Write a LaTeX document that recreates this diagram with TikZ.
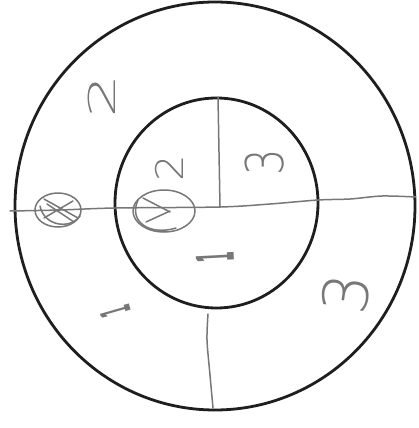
\documentclass[tikz,border=0pt]{standalone}
\usepackage{fontspec}
\usepackage{graphicx}
\newfontfamily\handfont{DejaVu Sans ExtraLight}
\newfontfamily\heavyfont{DejaVu Sans Bold}
\definecolor{ink}{HTML}{1E1E1E}
\definecolor{pencil}{HTML}{777777}
\begin{document}
\begin{tikzpicture}[x=1pt,y=-1pt,
  ring/.style={draw=ink,line width=2.8pt},
  pen/.style={draw=pencil,line width=1.5pt,line cap=round,line join=round},
  digit/.style={text=pencil,inner sep=0pt,rotate=90}]
\useasboundingbox[fill=white] (0,0) rectangle (419,428);
% circles
\draw[ring] (215,206) ellipse [x radius=200,y radius=204];
\draw[ring] (216.5,203) ellipse [x radius=101.5,y radius=105];
% division lines
\coordinate (hl) at (10,211);
\coordinate (hr) at (416,197);
\coordinate (vt) at (218,97);
\coordinate (vb) at (220,207);
\coordinate (lt) at (208,314);
\coordinate (lb) at (213,408);
\draw[pen] plot[smooth] coordinates {(hl) (60,210) (115,208) (220,207) (270,204) (318,200) (350,199) (382,196) (hr)};
\draw[pen] (vt) -- (vb);
\draw[pen] plot[smooth] coordinates {(lt) (207,340) (210,375) (lb)};
% left circled cross
\draw[pen] (58,210) ellipse [x radius=23,y radius=17];
\draw[pen] (40,206) .. controls (44,226) and (70,230) .. (80,216);
\draw[pen] (44,199) -- (78,218);
\draw[pen] (44,218) -- (73,201);
\draw[pen] (47,204) -- (74,222);
% right circled mark
\draw[pen] (164,211) ellipse [x radius=31,y radius=21];
\draw[pen] (138,200) .. controls (128,222) and (150,236) .. (176,228);
\draw[pen] (143,198) -- (170,212);
\draw[pen] (146,222) -- (170,211);
% labels
\node[digit,font=\handfont\fontsize{37}{37}\selectfont] (outertwo) at (102,96) {\scalebox{1.9}[1]{2}};
\node[digit,font=\handfont\fontsize{38}{38}\selectfont] (innertwo) at (169,168) {\scalebox{1.1}[1]{2}};
\node[digit,font=\handfont\fontsize{52}{52}\selectfont] (innerthree) at (265,162) {\scalebox{0.8}[1]{3}};
\node[digit,rotate=-8,font=\handfont\fontsize{62}{62}\selectfont] (outerthree) at (346,294) {3};
\node[digit,rotate=3,font=\heavyfont\fontsize{52}{52}\selectfont] (innerone) at (215,257) {\scalebox{0.28}[1]{1}};
\node[digit,rotate=16,font=\heavyfont\fontsize{42}{42}\selectfont] (outerone) at (116,312) {\scalebox{0.3}[1]{1}};
\end{tikzpicture}
\end{document}
